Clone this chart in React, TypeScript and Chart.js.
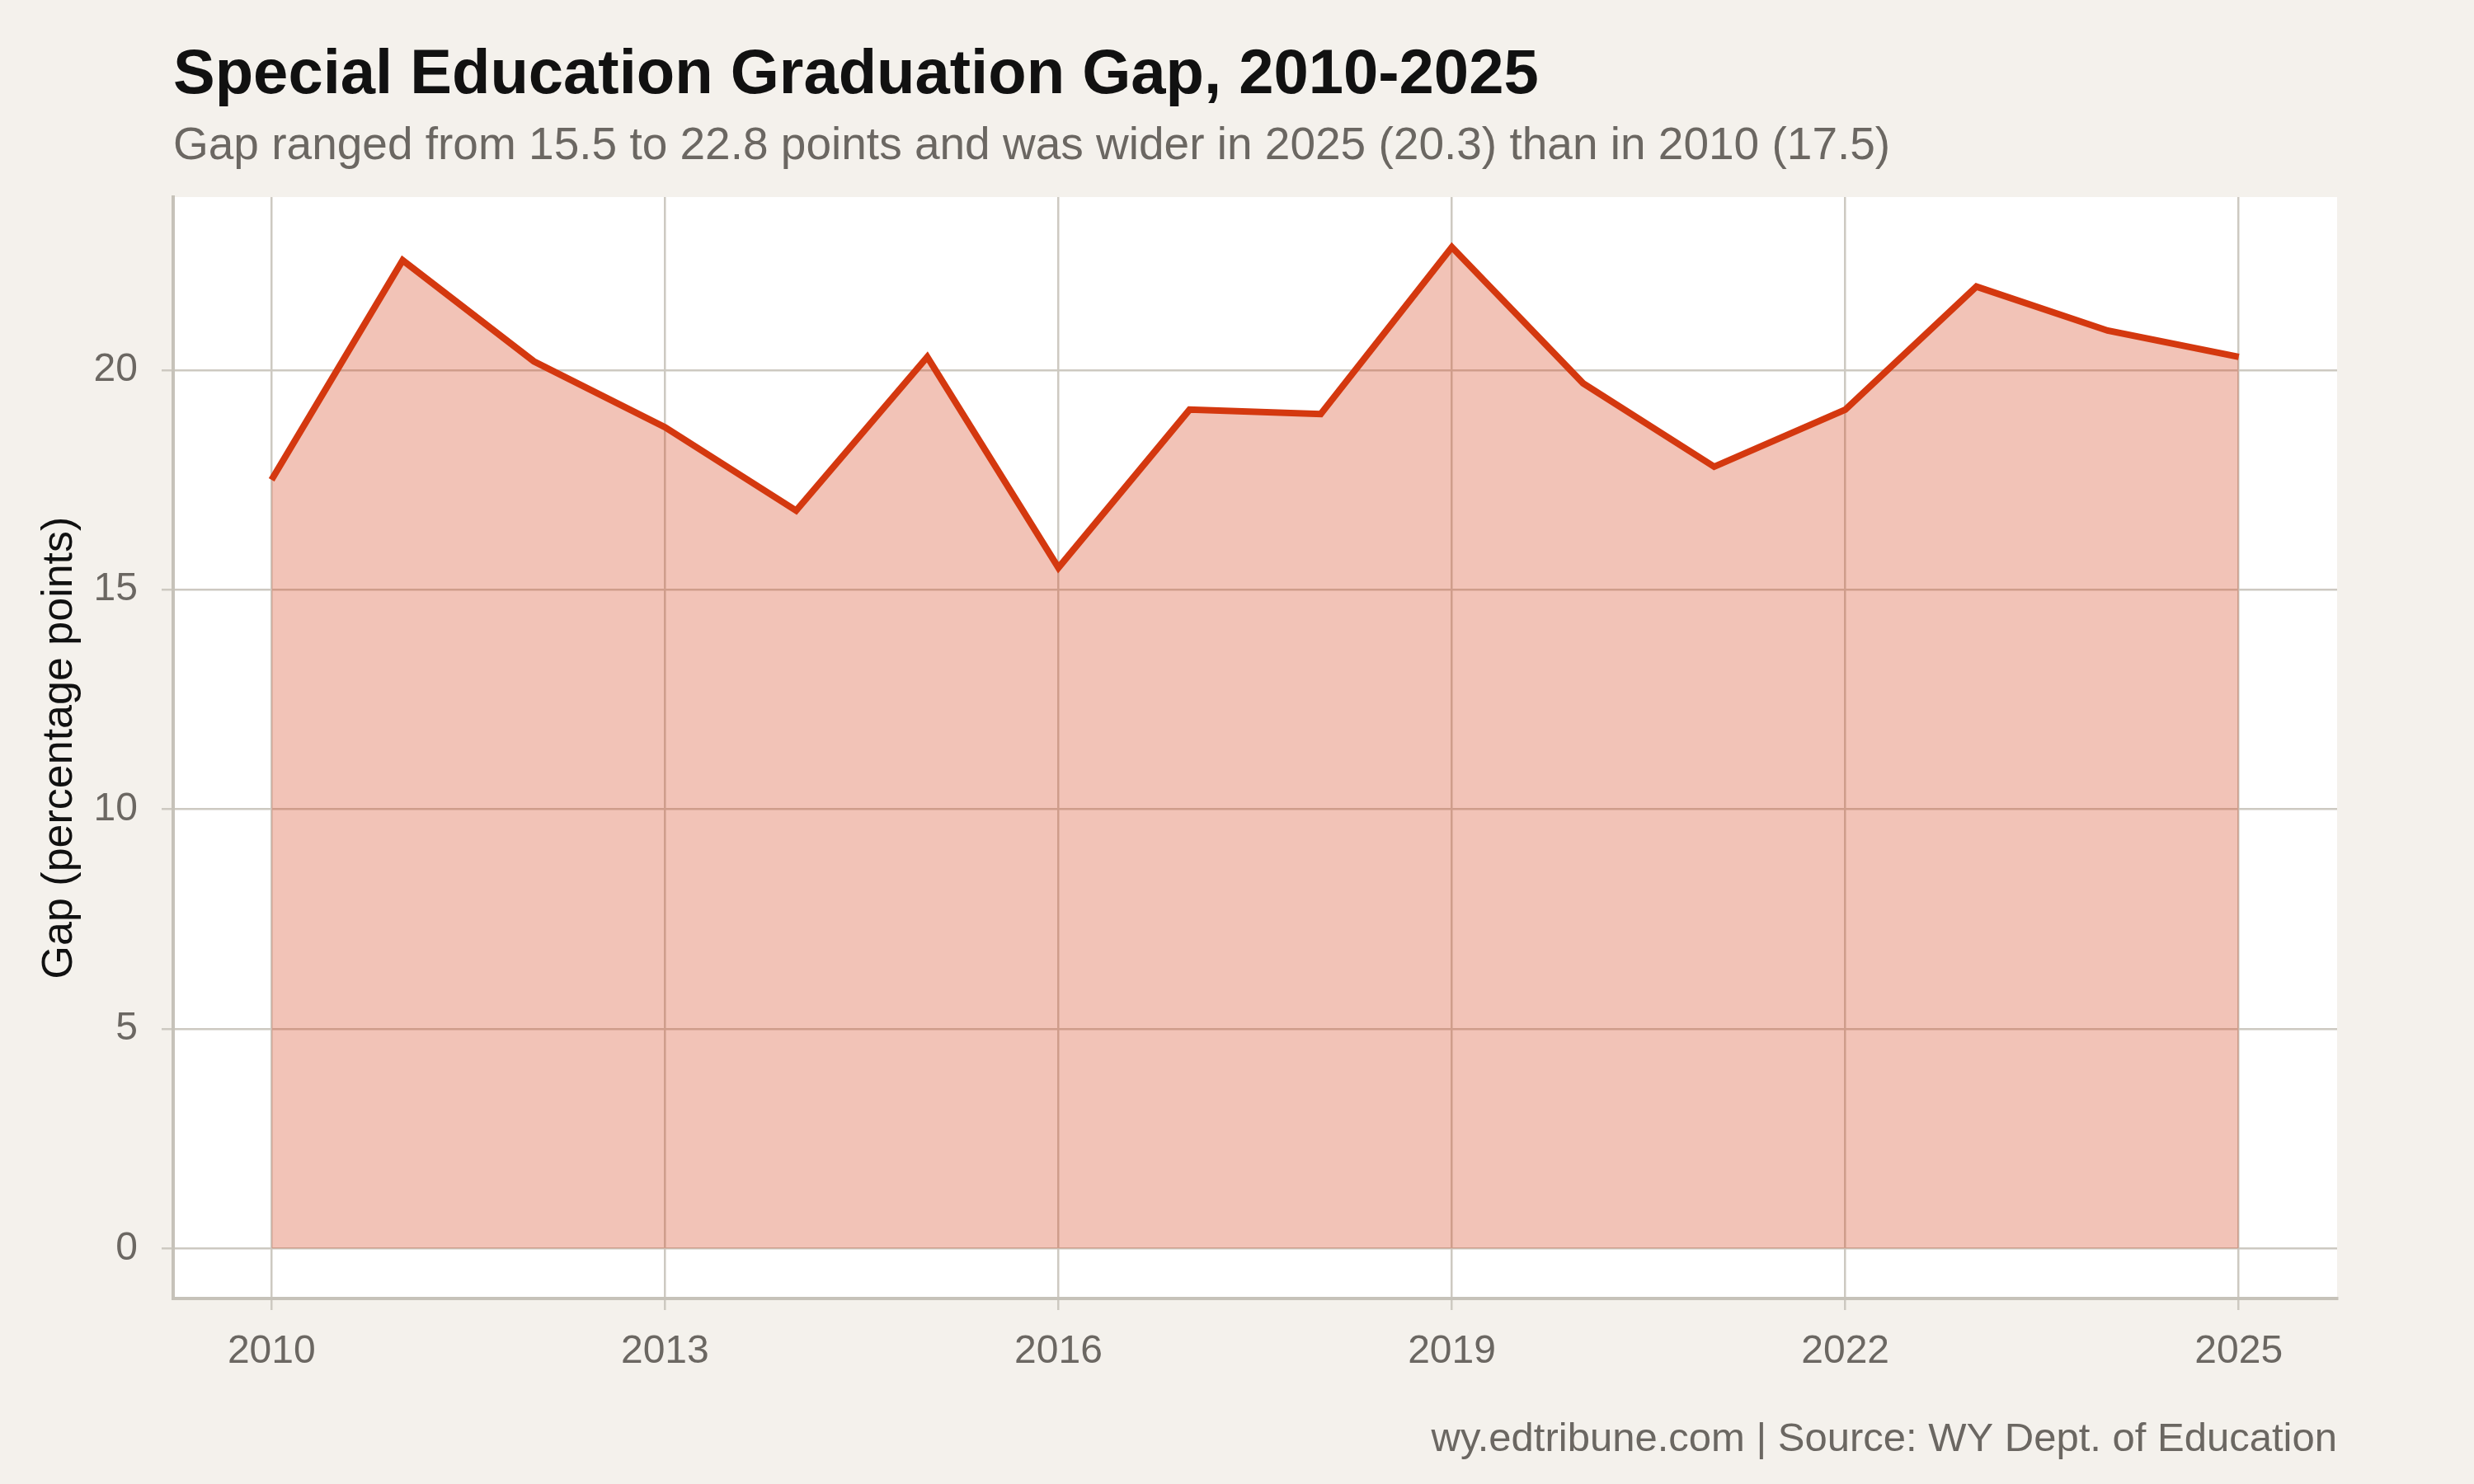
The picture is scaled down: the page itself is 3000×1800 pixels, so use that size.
import { useEffect, useRef } from "react";
import { Chart, registerables } from "chart.js";

Chart.register(...registerables);

const years = [2010, 2011, 2012, 2013, 2014, 2015, 2016, 2017, 2018, 2019, 2020, 2021, 2022, 2023, 2024, 2025];
const gapValues = [17.5, 22.5, 20.2, 18.7, 16.8, 20.3, 15.5, 19.1, 19.0, 22.8, 19.7, 17.8, 19.1, 21.9, 20.9, 20.3];
const xTickYears = [2010, 2013, 2016, 2019, 2022, 2025];
const yTickValues = [0, 5, 10, 15, 20];

const titleText = "Special Education Graduation Gap, 2010-2025";
const subtitleText = "Gap ranged from 15.5 to 22.8 points and was wider in 2025 (20.3) than in 2010 (17.5)";
const captionText = "wy.edtribune.com | Source: WY Dept. of Education";
const yAxisTitle = "Gap (percentage points)";

const FONT = "'Liberation Sans', Arial, Helvetica, sans-serif";
const BG = "#f4f1ec";
const GRID = "#cdc9c1";
const AXIS = "#c6c2b9";
const LINE = "#d4380f";
const MUTED = "#6b6762";

// background + titles drawn straight on the canvas
const decorPlugin = {
  id: "decor",
  beforeDraw(chart: Chart) {
    const { ctx, chartArea } = chart;
    ctx.save();
    ctx.fillStyle = BG;
    ctx.fillRect(0, 0, chart.width, chart.height);
    ctx.fillStyle = "#ffffff";
    ctx.fillRect(chartArea.left, chartArea.top, chartArea.right - chartArea.left, chartArea.bottom - chartArea.top);
    ctx.restore();
  },
  afterDraw(chart: Chart) {
    const { ctx, chartArea } = chart;
    ctx.save();
    ctx.textBaseline = "alphabetic";
    ctx.textAlign = "left";
    ctx.fillStyle = "#111111";
    ctx.font = `bold 76px ${FONT}`;
    ctx.fillText(titleText, chartArea.left, 113);
    ctx.fillStyle = MUTED;
    ctx.font = `55px ${FONT}`;
    ctx.fillText(subtitleText, chartArea.left, 193);
    ctx.textAlign = "right";
    ctx.font = `49px ${FONT}`;
    ctx.fillText(captionText, chartArea.right, 1760);
    ctx.restore();
  },
};

export default function App() {
  const canvasRef = useRef<HTMLCanvasElement | null>(null);
  const chartRef = useRef<Chart | null>(null);

  useEffect(() => {
    if (!canvasRef.current) return;
    if (chartRef.current) chartRef.current.destroy();

    chartRef.current = new Chart(canvasRef.current, {
      type: "line",
      data: {
        datasets: [
          {
            label: "Gap",
            data: years.map((yr, i) => ({ x: yr, y: gapValues[i] })),
            borderColor: LINE,
            backgroundColor: "rgba(212, 56, 15, 0.3)",
            borderWidth: 8,
            fill: "origin",
            pointRadius: 0,
            tension: 0,
          },
        ],
      },
      options: {
        animation: false,
        responsive: false,
        devicePixelRatio: 1,
        layout: { padding: { top: 239, right: 166, bottom: 0, left: 0 } },
        plugins: {
          legend: { display: false },
          tooltip: { enabled: false },
        },
        scales: {
          x: {
            type: "linear",
            min: 2009.25,
            max: 2025.75,
            afterBuildTicks: (scale: any) => {
              scale.ticks = xTickYears.map((v) => ({ value: v }));
            },
            afterFit: (scale: any) => {
              scale.height = 225;
            },
            grid: { color: GRID, lineWidth: 2.5, tickLength: 14 },
            border: { display: true, color: AXIS, width: 4 },
            ticks: {
              color: MUTED,
              padding: 22,
              maxRotation: 0,
              font: { family: FONT, size: 48 },
              callback: (v: any) => String(v),
            },
          },
          y: {
            type: "linear",
            min: -1.14,
            max: 23.94,
            afterBuildTicks: (scale: any) => {
              scale.ticks = yTickValues.map((v) => ({ value: v }));
            },
            afterFit: (scale: any) => {
              scale.width = 210;
            },
            grid: { color: GRID, lineWidth: 2.5, tickLength: 14 },
            border: { display: true, color: AXIS, width: 4 },
            ticks: {
              color: MUTED,
              padding: 29,
              font: { family: FONT, size: 48 },
              callback: (v: any) => String(v),
            },
            title: {
              display: true,
              text: yAxisTitle,
              color: "#111111",
              padding: { top: 41, bottom: 0 },
              font: { family: FONT, size: 52 },
            },
          },
        },
      },
      plugins: [decorPlugin],
    });

    return () => {
      if (chartRef.current) {
        chartRef.current.destroy();
        chartRef.current = null;
      }
    };
  }, []);

  return (
    <div style={{ position: "absolute", left: 0, top: 0, width: 3000, height: 1800, background: BG }}>
      <canvas ref={canvasRef} width={3000} height={1800} style={{ width: 3000, height: 1800 }} />
    </div>
  );
}
